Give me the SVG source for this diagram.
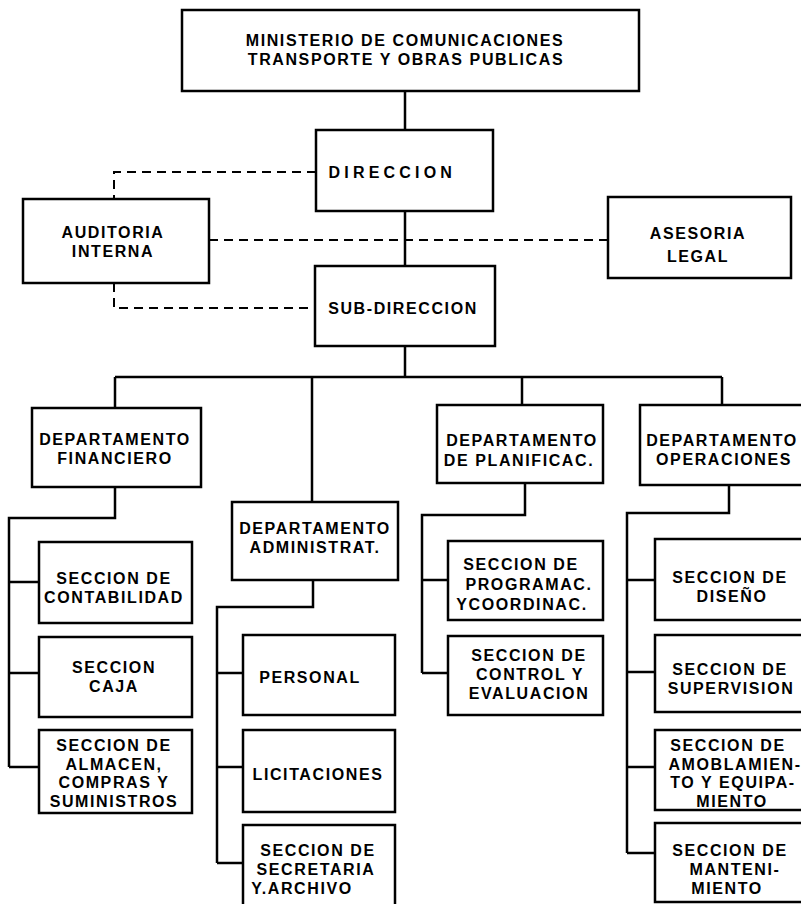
<svg xmlns="http://www.w3.org/2000/svg" width="801" height="904" viewBox="0 0 801 904">
<style>
rect.box{fill:#fff;stroke:#000;stroke-width:2.5}
.c path{fill:none;stroke:#000;stroke-width:2.5}
.c path.d{stroke-width:2;stroke-dasharray:9 6}
text{font-family:"Liberation Sans",Arial,Helvetica,sans-serif;font-weight:bold;font-size:16px;letter-spacing:1.6px;text-anchor:middle;fill:#000}
</style>
<rect width="801" height="904" fill="#fff"/>
<g class="c" id="connectors">
<path d="M405,91V130M405,211V266M405,346V377M115,377H722M115,377V408M312,377V502M522,377V405M722,377V405"/>
<path class="d" d="M316,172H114V199"/>
<path class="d" d="M209,240H608"/>
<path class="d" d="M114,283V308H316"/>
<path d="M115,487V518H9V767M9,582H39M9,673H39M9,767H39"/>
<path d="M313,580V607H217V863M217,673H243M217,767H243M217,863H243"/>
<path d="M525,483V515H422V673M422,580H448M422,673H448"/>
<path d="M729,485V513H627V853M627,580H655M627,672H655M627,767H655M627,853H655"/>
</g>
<g id="ministerio"><rect class="box" x="182" y="10" width="457" height="81"/><text x="405" y="46">MINISTERIO DE COMUNICACIONES</text><text x="406" y="65">TRANSPORTE Y OBRAS PUBLICAS</text></g>
<g id="direccion"><rect class="box" x="316" y="130" width="177" height="81"/><text x="391" y="178" textLength="125" lengthAdjust="spacing">DIRECCION</text></g>
<g id="auditoria"><rect class="box" x="23" y="199" width="186" height="84"/><text x="113" y="238">AUDITORIA</text><text x="113" y="257">INTERNA</text></g>
<g id="asesoria"><rect class="box" x="608" y="197" width="183" height="81"/><text x="698" y="239">ASESORIA</text><text x="698" y="262">LEGAL</text></g>
<g id="subdireccion"><rect class="box" x="315" y="266" width="180" height="80"/><text x="403" y="314">SUB-DIRECCION</text></g>
<g id="dep-financiero"><rect class="box" x="32" y="408" width="169" height="79"/><text x="115" y="445">DEPARTAMENTO</text><text x="115" y="464">FINANCIERO</text></g>
<g id="contabilidad"><rect class="box" x="39" y="542" width="153" height="81"/><text x="114" y="584">SECCION DE</text><text x="114" y="603">CONTABILIDAD</text></g>
<g id="caja"><rect class="box" x="39" y="637" width="153" height="80"/><text x="114" y="673">SECCION</text><text x="114" y="692">CAJA</text></g>
<g id="almacen"><rect class="box" x="39" y="730" width="153" height="83"/><text x="114" y="751">SECCION DE</text><text x="114" y="769.5">ALMACEN,</text><text x="114" y="788">COMPRAS Y</text><text x="114" y="806.5">SUMINISTROS</text></g>
<g id="dep-administrat"><rect class="box" x="232" y="502" width="166" height="78"/><text x="315" y="534">DEPARTAMENTO</text><text x="315" y="553">ADMINISTRAT.</text></g>
<g id="personal"><rect class="box" x="243" y="635" width="152" height="80"/><text x="310" y="683">PERSONAL</text></g>
<g id="licitaciones"><rect class="box" x="243" y="730" width="152" height="82"/><text x="318" y="780">LICITACIONES</text></g>
<g id="secretaria"><rect class="box" x="243" y="825" width="152" height="90"/><text x="318" y="856">SECCION DE</text><text x="316" y="875">SECRETARIA</text><text x="302" y="894">Y.ARCHIVO</text></g>
<g id="dep-planificac"><rect class="box" x="437" y="405" width="166" height="78"/><text x="522" y="446">DEPARTAMENTO</text><text x="519" y="466">DE PLANIFICAC.</text></g>
<g id="programac"><rect class="box" x="448" y="541" width="155" height="79"/><text x="521" y="570">SECCION DE</text><text x="529" y="590">PROGRAMAC.</text><text x="522" y="610">YCOORDINAC.</text></g>
<g id="control"><rect class="box" x="448" y="636" width="155" height="79"/><text x="529" y="661">SECCION DE</text><text x="530" y="680">CONTROL Y</text><text x="529" y="699">EVALUACION</text></g>
<g id="dep-operaciones"><rect class="box" x="640" y="405" width="170" height="80"/><text x="722" y="446">DEPARTAMENTO</text><text x="724" y="465">OPERACIONES</text></g>
<g id="diseno"><rect class="box" x="655" y="539" width="155" height="81"/><text x="730" y="583">SECCION DE</text><text x="732" y="602">DISEÑO</text></g>
<g id="supervision"><rect class="box" x="655" y="635" width="155" height="77"/><text x="730" y="675">SECCION DE</text><text x="731" y="694">SUPERVISION</text></g>
<g id="amoblamiento"><rect class="box" x="655" y="730" width="155" height="80"/><text x="728" y="751">SECCION DE</text><text x="735" y="769.5">AMOBLAMIEN-</text><text x="733" y="788">TO Y EQUIPA-</text><text x="732" y="806.5">MIENTO</text></g>
<g id="mantenimiento"><rect class="box" x="655" y="823" width="155" height="79"/><text x="730" y="856">SECCION DE</text><text x="735" y="875">MANTENI-</text><text x="727" y="894">MIENTO</text></g>
</svg>
